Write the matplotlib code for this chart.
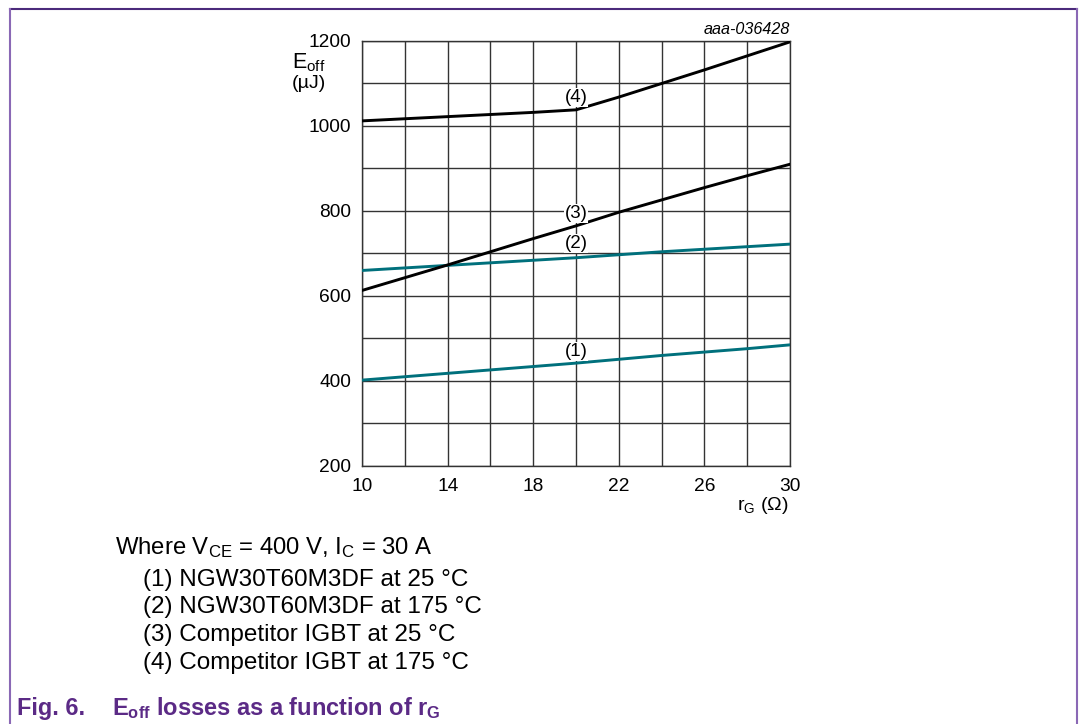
import numpy as np
import matplotlib.pyplot as plt

plt.rcParams['font.family'] = ['Liberation Sans', 'DejaVu Sans']
plt.rcParams['mathtext.fontset'] = 'custom'
plt.rcParams['mathtext.rm'] = 'Liberation Sans'
plt.rcParams['mathtext.bf'] = 'Liberation Sans:bold'

# data (rG in ohm, Eoff in uJ)
rg = [10, 12, 14, 16, 18, 20, 22, 24, 26, 28, 30]
e1 = [402, 410, 418, 426, 434, 442, 451, 460, 468, 476, 485]
e2 = [660, 666, 672, 678, 684, 690, 697, 704, 710, 716, 722]
e3 = [613, 643, 673, 704, 735, 765, 797, 826, 855, 883, 910]
e4 = [1012, 1017, 1022, 1027, 1032, 1038, 1068, 1100, 1132, 1165, 1198]

labels = ['(1)', '(2)', '(3)', '(4)']
label_y = [470, 724, 794, 1068]
label_x = 20

teal = '#00707c'
purple = '#5b2a86'

fig = plt.figure(figsize=(10.82, 7.24), dpi=100)
ax = fig.add_axes([0.3346, 0.3564, 0.3956, 0.587])

ax.plot(rg, e1, color=teal, lw=2.1, zorder=3)
ax.plot(rg, e2, color=teal, lw=2.1, zorder=3)
ax.plot(rg, e3, color='black', lw=2.1, zorder=3)
ax.plot(rg, e4, color='black', lw=2.1, zorder=3)

for lab, yy in zip(labels, label_y):
    ax.text(label_x, yy, lab, ha='center', va='center', fontsize=13.5, zorder=4,
            bbox=dict(boxstyle='square,pad=0.05', fc='white', ec='none'))

ax.set_xlim(10, 30)
ax.set_ylim(200, 1200)
ax.set_xticks(np.arange(10, 31, 4))
ax.set_xticks(np.arange(10, 31, 2), minor=True)
ax.set_yticks(np.arange(200, 1201, 200))
ax.set_yticks(np.arange(200, 1201, 100), minor=True)
ax.grid(which='both', color='#333333', lw=1.0)
ax.tick_params(which='both', length=0, labelsize=13.8)
ax.tick_params(axis='y', pad=8)
ax.tick_params(axis='x', pad=8.5)
for s in ax.spines.values():
    s.set_color('#333333')
    s.set_linewidth(1.0)

fig.text(790 / 1082, 1 - 29 / 724, 'aaa-036428', ha='right', va='center',
         fontsize=11.6, style='italic')
fig.text(309 / 1082, 1 - 63 / 724, r'$\mathrm{E_{off}}$', ha='center', va='center', fontsize=15.5)
fig.text(309 / 1082, 1 - 84 / 724, '(µJ)', ha='center', va='center', fontsize=14)
fig.text(763 / 1082, 1 - 505 / 724, r'$\mathrm{r_G}$ (Ω)', ha='center', va='center', fontsize=14)

fig.text(115 / 1082, 1 - 548 / 724, r'Where $\mathrm{V_{CE}}$ = 400 V, $\mathrm{I_C}$ = 30 A',
         ha='left', va='center', fontsize=17.2)
legend_lines = ['(1) NGW30T60M3DF at 25 °C', '(2) NGW30T60M3DF at 175 °C',
                '(3) Competitor IGBT at 25 °C', '(4) Competitor IGBT at 175 °C']
for i, t in enumerate(legend_lines):
    fig.text(143 / 1082, 1 - (580 + i * 27.5) / 724, t, ha='left', va='center', fontsize=17.5)

fig.text(17 / 1082, 1 - 708 / 724, 'Fig. 6.', ha='left', va='center', fontsize=16.8,
         fontweight='bold', color=purple)
fig.text(112 / 1082, 1 - 708 / 724, r'$\mathbf{E_{off}}$ losses as a function of $\mathbf{r_G}$',
         ha='left', va='center', fontsize=17, fontweight='bold', color=purple)

# frame
fig.add_artist(plt.Line2D([10 / 1082, 1077 / 1082], [1 - 9 / 724, 1 - 9 / 724],
                          transform=fig.transFigure, color='#4b2a7b', lw=1.5))
fig.add_artist(plt.Line2D([10 / 1082, 10 / 1082], [0, 1 - 9 / 724],
                          transform=fig.transFigure, color='#8a68b5', lw=1.5))
fig.add_artist(plt.Line2D([1077 / 1082, 1077 / 1082], [0, 1 - 9 / 724],
                          transform=fig.transFigure, color='#8a68b5', lw=1.5))

fig.savefig('out.png', dpi=100)
